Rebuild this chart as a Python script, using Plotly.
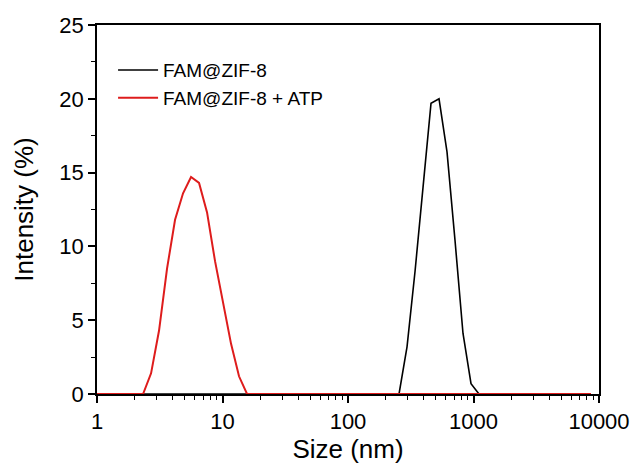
import plotly.graph_objects as go

# DLS size bins (nm)
sizes = [0.9649, 1.117, 1.294, 1.499, 1.736, 2.01, 2.328, 2.696, 3.122, 3.615,
         4.187, 4.849, 5.615, 6.503, 7.531, 8.721, 10.1, 11.7, 13.54, 15.69,
         18.17, 21.04, 24.36, 28.21, 32.67, 37.84, 43.82, 50.75, 58.77, 68.06,
         78.82, 91.28, 105.7, 122.4, 141.8, 164.2, 190.1, 220.2, 255.0, 295.3,
         342.0, 396.1, 458.7, 531.2, 615.1, 712.4, 825.0, 955.4, 1106, 1281,
         1484, 1718, 1990, 2305, 2669, 3091, 3580, 4145, 4801, 5560,
         6439, 7456, 8635]

# FAM@ZIF-8 intensity (%)
zif8 = [0, 0, 0, 0, 0, 0, 0, 0, 0, 0,
        0, 0, 0, 0, 0, 0, 0, 0, 0, 0,
        0, 0, 0, 0, 0, 0, 0, 0, 0, 0,
        0, 0, 0, 0, 0, 0, 0, 0, 0, 3.2,
        8.3, 14.0, 19.7, 20.0, 16.4, 10.4, 4.1, 0.7, 0, 0,
        0, 0, 0, 0, 0, 0, 0, 0, 0, 0,
        0, 0, 0]

# FAM@ZIF-8 + ATP intensity (%)
zif8_atp = [0, 0, 0, 0, 0, 0, 0, 1.4, 4.3, 8.5,
            11.8, 13.6, 14.7, 14.3, 12.3, 9.0, 6.2, 3.4, 1.2, 0,
            0, 0, 0, 0, 0, 0, 0, 0, 0, 0,
            0, 0, 0, 0, 0, 0, 0, 0, 0, 0,
            0, 0, 0, 0, 0, 0, 0, 0, 0, 0,
            0, 0, 0, 0, 0, 0, 0, 0, 0, 0,
            0, 0, 0]

x_tickvals = [1, 10, 100, 1000, 10000]
x_ticktext = ["1", "10", "100", "1000", "10000"]
x_minor = [m * d for d in [1, 10, 100, 1000] for m in range(2, 10)]
y_tickvals = [0, 5, 10, 15, 20, 25]

FONT = "Liberation Sans, Arial, sans-serif"

fig = go.Figure()
fig.add_trace(go.Scatter(x=sizes, y=zif8, mode="lines", name="FAM@ZIF-8",
                         line=dict(color="#000000", width=1.6)))
fig.add_trace(go.Scatter(x=sizes, y=zif8_atp, mode="lines", name="FAM@ZIF-8 + ATP",
                         line=dict(color="#de1c1c", width=2)))

fig.update_layout(
    width=635, height=466,
    margin=dict(l=97, r=36, t=25, b=72),
    paper_bgcolor="white", plot_bgcolor="white",
    font=dict(family=FONT, color="black", size=19),
    showlegend=True,
    legend=dict(x=0.032, y=0.929, xanchor="left", yanchor="top",
                bgcolor="rgba(0,0,0,0)", font=dict(size=19),
                tracegroupgap=0, itemwidth=40),
)
fig.update_xaxes(
    type="log", range=[0, 4], automargin=False,
    tickvals=x_tickvals, ticktext=x_ticktext,
    ticks="outside", ticklen=7, tickwidth=1.5, tickcolor="black",
    minor=dict(tickvals=x_minor, ticks="outside", ticklen=4, tickwidth=1.2, tickcolor="black", showgrid=False),
    showline=True, linecolor="black", linewidth=1.8, mirror=True,
    showgrid=False, zeroline=False,
    tickfont=dict(size=22),
    title=dict(text="Size (nm)", font=dict(size=26), standoff=0),
)
fig.update_yaxes(
    range=[0, 25], automargin=False,
    tickvals=y_tickvals,
    ticks="outside", ticklen=7, tickwidth=1.5, tickcolor="black",
    minor=dict(dtick=2.5, ticks="outside", ticklen=4, tickwidth=1.2, tickcolor="black", showgrid=False),
    showline=True, linecolor="black", linewidth=1.8, mirror=True,
    showgrid=False, zeroline=False,
    tickfont=dict(size=22),
    title=dict(text="Intensity (%)", font=dict(size=26), standoff=18),
)

fig.write_html("out.html", config={"displayModeBar": False},
               post_script="document.body.style.margin='0';document.body.style.padding='0';")
